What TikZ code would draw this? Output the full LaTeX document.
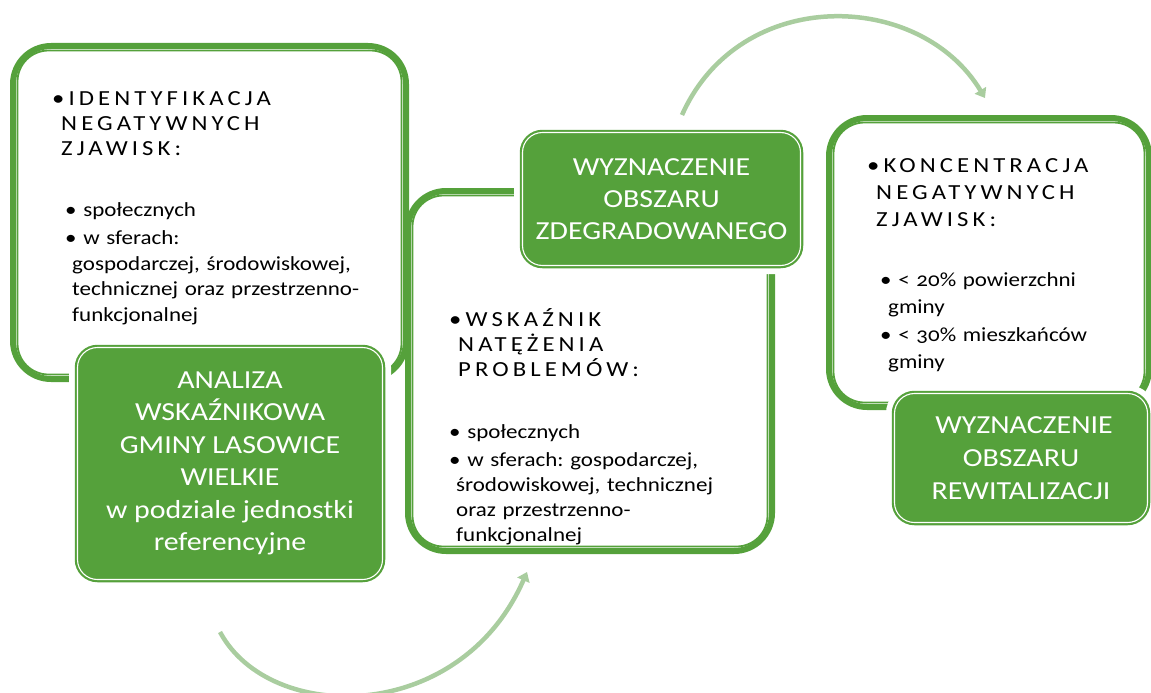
\documentclass[tikz,border=0pt]{standalone}
\usepackage{fontspec}
\setmainfont{Carlito}[FakeStretch=1.15,Numbers=OldStyle]
\usetikzlibrary{positioning,arrows.meta}
\definecolor{boxgreen}{HTML}{55A13B}
\definecolor{arcgreen}{HTML}{A9CD9F}
\newcommand\spaced[1]{{\addfontfeatures{LetterSpace=19}#1}}
\frenchspacing
\tikzset{%
	bigbox/.style    = {draw=boxgreen, line width=6pt, rectangle, rounded corners=38pt,
		inner sep=0pt},
	innerline/.style = {draw=boxgreen, line width=1.8pt, rounded corners=31pt},
	greenbox/.style  = {draw=boxgreen, double=white, double distance=1.1pt, line width=2.2pt,
		fill=boxgreen, rounded corners=20pt, text=white, align=center, inner sep=0pt,
		preaction={draw=white, line width=17pt}}, % white halo
	head/.style      = {anchor=base west, align=left, inner sep=0pt, text width=300pt},
	list/.style      = {anchor=base west, align=left, inner sep=0pt, text width=300pt},
	turn/.style      = {draw=arcgreen, line width=4.5pt, -{Triangle[length=9pt,width=13pt]}}
}

\begin{document}
\frenchspacing
\begin{tikzpicture}[x=1pt,y=-1pt]
			\useasboundingbox (0,0) rectangle (1151,693);

			% framed boxes
			\node[bigbox, minimum width=393pt, minimum height=333pt] (b1) at (209.5,212.5) {};
			\node[bigbox, minimum width=364pt, minimum height=360pt] (b2) at (590,371) {};
			\node[bigbox, minimum width=320pt, minimum height=289pt] (b3) at (989,262.5) {};
			\draw[innerline] ([shift={(7.5,7.5)}]b1.north west) rectangle ([shift={(-7.5,-7.5)}]b1.south east);
			\draw[innerline] ([shift={(7.5,7.5)}]b2.north west) rectangle ([shift={(-7.5,-7.5)}]b2.south east);
			\draw[innerline] ([shift={(7.5,7.5)}]b3.north west) rectangle ([shift={(-7.5,-7.5)}]b3.south east);

			% green boxes
			\node[greenbox, minimum width=305pt, minimum height=232pt, font=\fontsize{26}{32.5}\selectfont] (g1) at (230,463.5)
				{ANALIZA\\WSKAŹNIKOWA\\GMINY LASOWICE\\WIELKIE\\w podziale jednostki\\referencyjne};
			\node[greenbox, minimum width=278pt, minimum height=133pt, font=\fontsize{26}{32}\selectfont] (g2) at (661.5,199)
				{WYZNACZENIE\\OBSZARU\\ZDEGRADOWANEGO};
			\node[greenbox, minimum width=253pt, minimum height=129pt, font=\fontsize{26}{33}\selectfont] (g3) at (1021,458)
				{\hspace*{6pt}WYZNACZENIE\\OBSZARU\\REWITALIZACJI};

			% texts
			\node[head, font=\fontsize{21.5}{25.5}\selectfont] (hd1) at (52,105)
				{\spaced{•IDENTYFIKACJA}\\\hspace*{9pt}\spaced{NEGATYWNYCH}\\\hspace*{9pt}\spaced{ZJAWISK:}};
			\node[list, font=\fontsize{20}{25.5}\selectfont] (ls1) at (65,216)
				{• społecznych\\[3pt]
				 • w sferach:\\\hspace*{7pt}gospodarczej, środowiskowej,\\\hspace*{7pt}technicznej oraz przestrzenno-\\\hspace*{7pt}funkcjonalnej};
			\node[head, font=\fontsize{21.5}{25}\selectfont] (hd2) at (449,326)
				{\spaced{•WSKAŹNIK}\\\hspace*{9pt}\spaced{NATĘŻENIA}\\\hspace*{9pt}\spaced{PROBLEMÓW:}};
			\node[list, font=\fontsize{20}{25}\selectfont] (ls2) at (449,438)
				{• społecznych\\[3pt]
				 • w sferach: gospodarczej,\\\hspace*{7pt}środowiskowej, technicznej\\\hspace*{7pt}oraz przestrzenno-\\\hspace*{7pt}funkcjonalnej};
			\node[head, font=\fontsize{21.5}{27}\selectfont] (hd3) at (867,172)
				{\spaced{•KONCENTRACJA}\\\hspace*{9pt}\spaced{NEGATYWNYCH}\\\hspace*{9pt}\spaced{ZJAWISK:}};
			\node[list, font=\fontsize{20}{27}\selectfont] (ls3) at (880,286)
				{• < 20\% powierzchni\\\hspace*{8pt}gminy\\[1pt]
				 • < 30\% mieszkańców\\\hspace*{8pt}gminy};

			% turning arrows
			\coordinate (a1s) at (220,632);
			\coordinate (a1e) at (527,572);
			\coordinate (a2s) at (682,115);
			\coordinate (a2e) at (985,98);
			\draw[turn] (a1s) .. controls (270,725) and (460,725) .. (a1e);
			\draw[turn] (a2s) .. controls (740,-15) and (920,-10) .. (a2e);
		\end{tikzpicture}
\end{document}
